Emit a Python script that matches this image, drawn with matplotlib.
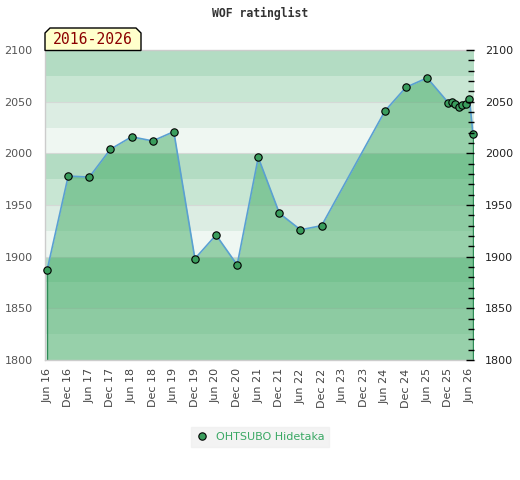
import numpy as np
import matplotlib
matplotlib.use("Agg")
import matplotlib.pyplot as plt
from matplotlib.patches import Polygon
from matplotlib.ticker import MultipleLocator

# months counted from Jun 2016
months = [0, 6, 12, 18, 24, 30, 36, 42, 48, 54, 60, 66, 72, 78,
          96, 102, 108, 114, 115, 116, 117, 118, 119, 120, 121]
rating = [1887, 1978, 1977, 2004, 2016, 2012, 2021, 1898, 1921, 1892, 1996, 1942, 1926, 1930,
          2041, 2064, 2073, 2049, 2050, 2048, 2045, 2047, 2048, 2053, 2019]
tick_months = list(range(0, 121, 6))
tick_labels = ["Jun 16", "Dec 16", "Jun 17", "Dec 17", "Jun 18", "Dec 18", "Jun 19",
               "Dec 19", "Jun 20", "Dec 20", "Jun 21", "Dec 21", "Jun 22", "Dec 22",
               "Jun 23", "Dec 23", "Jun 24", "Dec 24", "Jun 25", "Dec 25", "Jun 26"]
player = "OHTSUBO Hidetaka"
period = "2016-2026"

band_cols = ["#eff7f2", "#dcede3", "#c8e6d3", "#b3dcc3"]   # 0-25, 25-50, 50-75, 75-100 within each 100
fill_col = "#35a55a"
line_col = "#5aa0d2"
dot_col = "#3a9d5d"

W, H = 520, 480
fig = plt.figure(figsize=(W / 100, H / 100), dpi=100)
ax = fig.add_axes([45 / W, 1 - 360 / H, 429 / W, 310 / H])
ymin, ymax = 1800, 2100
ax.set_xlim(-0.6, 121.3)
ax.set_ylim(ymin, ymax)

# background bands
for lo in range(ymin, ymax, 25):
    ax.axhspan(lo, lo + 25, color=band_cols[(lo // 25) % 4], lw=0, zorder=0)
for g in range(ymin + 50, ymax, 50):
    ax.axhline(g, color="#d5d9d6", lw=0.8, zorder=0.5)

ax.fill_between(months, rating, ymin, color=fill_col, alpha=0.47, lw=0, zorder=1)
ax.vlines([months[0], months[-1]], ymin, [rating[0], rating[-1]], color="#2e8b57", lw=1.0, zorder=2)
ax.plot(months, rating, color=line_col, lw=1.2, zorder=3)
ax.plot(months, rating, "o", ls="none", ms=5.3, mfc=dot_col, mec="black", mew=0.8,
        zorder=4, clip_on=False, label=player)

ax.set_xticks(tick_months)
ax.set_xticklabels(tick_labels, rotation=90, fontsize=8, color="#444444")
ax.yaxis.set_major_locator(MultipleLocator(50))
ax.tick_params(axis="x", length=0, pad=6)
ax.tick_params(axis="y", length=0, labelsize=8, labelcolor="#555555", pad=9)
for s in ["left", "bottom", "top"]:
    ax.spines[s].set_color("#cccccc")
    ax.spines[s].set_linewidth(1.0)
ax.spines["right"].set_visible(False)

ax2 = ax.twinx()
ax2.set_ylim(ymin, ymax)
ax2.yaxis.set_major_locator(MultipleLocator(50))
ax2.yaxis.set_minor_locator(MultipleLocator(10))
ax2.tick_params(axis="y", which="major", direction="in", length=6, width=1, color="black",
                labelsize=8, labelcolor="#222222", pad=8)
ax2.tick_params(axis="y", which="minor", direction="in", length=4, width=1, color="black")
for s in ax2.spines.values():
    s.set_visible(False)

fig.text(0.5, 1 - 13 / H, "WOF ratinglist", ha="center", va="center",
         family="DejaVu Sans Mono", fontsize=8.3, fontweight="bold", color="#333333")

# period label box with chamfered top corners
px = [45, 45, 50, 136, 141, 141]
py = [50.5, 33, 28, 28, 33, 50.5]
poly = Polygon([(x / W, 1 - y / H) for x, y in zip(px, py)], closed=True,
               transform=fig.transFigure, facecolor="#ffffcc", edgecolor="black", lw=1)
fig.patches.append(poly)
fig.text(93 / W, 1 - 40 / H, period, ha="center", va="center",
         family="DejaVu Sans Mono", fontsize=10.6, color="#8b0000")

leg = fig.legend(loc="center", bbox_to_anchor=(0.5, 1 - 437 / H), frameon=True,
                 fancybox=False, fontsize=8, handlelength=1.2, handletextpad=0.6,
                 borderpad=0.45)
leg.get_frame().set_facecolor("#f0f0f0")
leg.get_frame().set_edgecolor("#f0f0f0")
for t in leg.get_texts():
    t.set_color("#3aa864")

fig.savefig("out.png", dpi=100)
